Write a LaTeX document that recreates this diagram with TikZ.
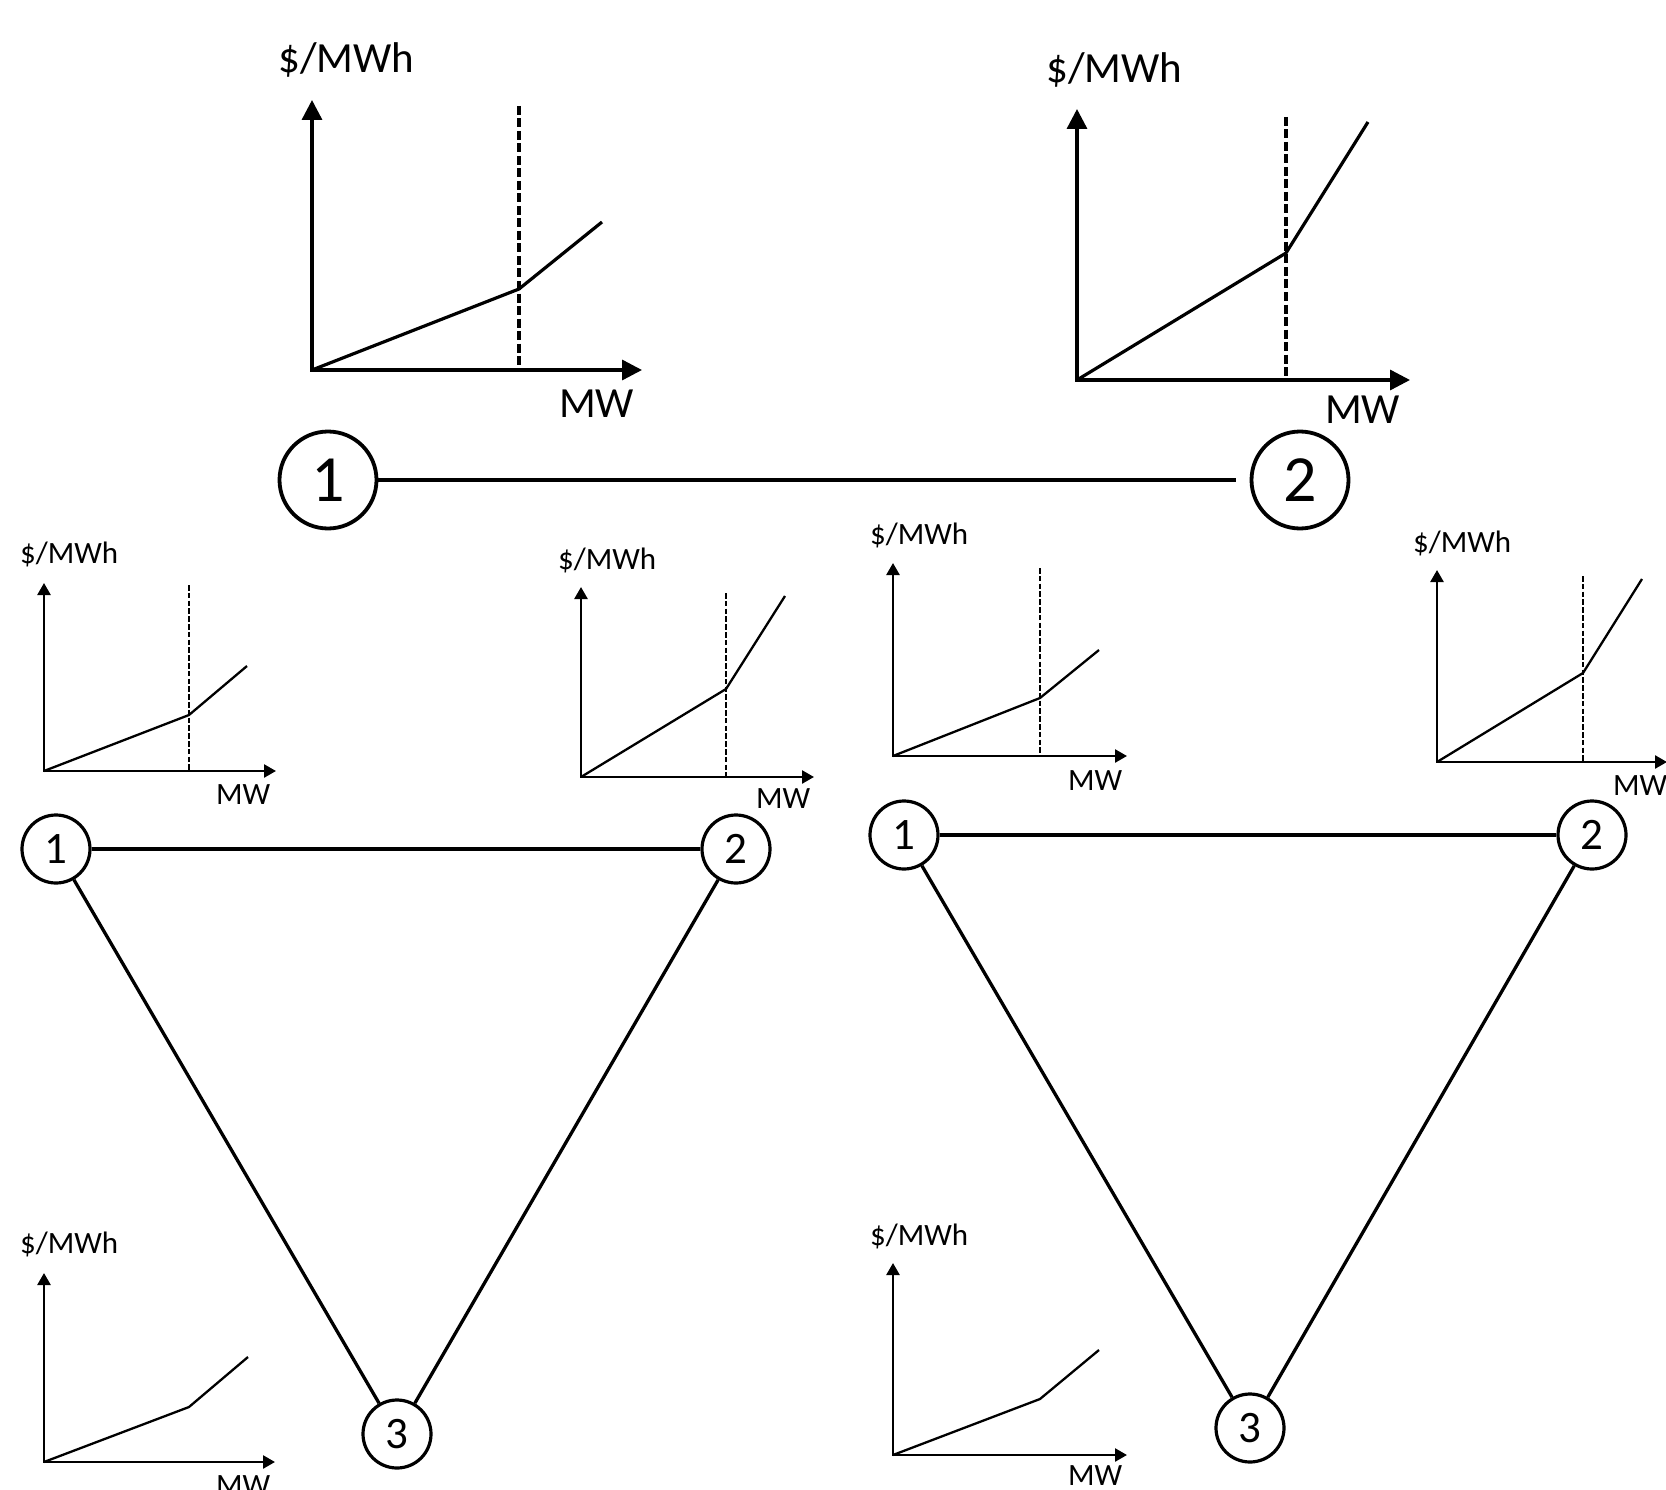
\documentclass[tikz,border=0pt]{standalone}
\usepackage{fontspec}
\setmainfont{Carlito}
\usetikzlibrary{arrows.meta}
\begin{document}
\begin{tikzpicture}[x=1pt,y=-1pt,
  bigaxis/.style={line width=3.4pt,{Triangle[width=20pt,length=20pt]}-{Triangle[width=20pt,length=20pt]}},
  bigcurve/.style={line width=3.2pt,line join=round},
  bigdash/.style={line width=3.4pt,dash pattern=on 9pt off 3.5pt},
  bigtext/.style={font=\fontsize{43}{50}\selectfont,inner sep=0pt,anchor=base west},
  smallaxis/.style={line width=2.5pt,{Triangle[width=13pt,length=12pt]}-{Triangle[width=13pt,length=12pt]}},
  smallcurve/.style={line width=2.3pt,line join=round},
  smalldash/.style={line width=2.4pt,dash pattern=on 5.5pt off 2.3pt},
  smalltext/.style={font=\fontsize{31}{37}\selectfont,inner sep=0pt,anchor=base west},
  bigbus/.style={circle,draw,line width=3.8pt,minimum size=97pt,inner sep=0pt,font=\fontsize{66}{70}\selectfont},
  bus/.style={circle,draw,line width=3.2pt,minimum size=68pt,inner sep=0pt,font=\fontsize{45}{50}\selectfont},
  tieline/.style={line width=3.3pt}
]
\useasboundingbox (0,0) rectangle (1666,1490);

% ---------- two-bus system ----------
\node[bigbus] (t1) at (328,480) {1};
\node[bigbus] (t2) at (1300,480) {2};
\draw[tieline,shorten >=14pt] (t1) -- (t2);

% offer curve at bus 1
\coordinate (a-o) at (312,370);
\coordinate (a-y) at (312,100);
\coordinate (a-x) at (642,370);
\coordinate (a-d) at (519,106);
\coordinate (a-b) at (519,370);
\coordinate (a-k) at (519,289);
\coordinate (a-e) at (602,222);
\draw[bigaxis] (a-y) -- (a-o) -- (a-x);
\draw[bigdash] (a-d) -- (a-b);
\draw[bigcurve] (a-o) -- (a-k) -- (a-e);
\node[bigtext] (a-lp) at (278,73) {\$/MWh};
\node[bigtext] (a-lq) at (559,417) {MW};

% offer curve at bus 2
\coordinate (b-o) at (1077,380);
\coordinate (b-y) at (1077,109);
\coordinate (b-x) at (1410,380);
\coordinate (b-d) at (1286,117);
\coordinate (b-b) at (1286,380);
\coordinate (b-k) at (1286,253);
\coordinate (b-e) at (1368,122);
\draw[bigaxis] (b-y) -- (b-o) -- (b-x);
\draw[bigdash] (b-d) -- (b-b);
\draw[bigcurve] (b-o) -- (b-k) -- (b-e);
\node[bigtext] (b-lp) at (1046,83) {\$/MWh};
\node[bigtext] (b-lq) at (1325,423) {MW};

% ---------- three-bus system, left ----------
\node[bus] (l1) at (56,849) {1};
\node[bus] (l2) at (736,849) {2};
\node[bus] (l3) at (397,1434) {3};
\draw[tieline] (l1) -- (l2);
\draw[tieline] (l1) -- (l3);
\draw[tieline] (l2) -- (l3);

\coordinate (c-o) at (44,771);
\coordinate (c-y) at (44,583);
\coordinate (c-x) at (276,771);
\coordinate (c-d) at (189,585);
\coordinate (c-b) at (189,771);
\coordinate (c-k) at (189,715);
\coordinate (c-e) at (247,666);
\draw[smallaxis] (c-y) -- (c-o) -- (c-x);
\draw[smalldash] (c-d) -- (c-b);
\draw[smallcurve] (c-o) -- (c-k) -- (c-e);
\node[smalltext] (c-lp) at (20,563) {\$/MWh};
\node[smalltext] (c-lq) at (216,804) {MW};

\coordinate (d-o) at (581,777);
\coordinate (d-y) at (581,587);
\coordinate (d-x) at (814,777);
\coordinate (d-d) at (726,593);
\coordinate (d-b) at (726,777);
\coordinate (d-k) at (726,689);
\coordinate (d-e) at (785,596);
\draw[smallaxis] (d-y) -- (d-o) -- (d-x);
\draw[smalldash] (d-d) -- (d-b);
\draw[smallcurve] (d-o) -- (d-k) -- (d-e);
\node[smalltext] (d-lp) at (558,569) {\$/MWh};
\node[smalltext] (d-lq) at (756,808) {MW};

\coordinate (e-o) at (44,1462);
\coordinate (e-y) at (44,1273);
\coordinate (e-x) at (275,1462);
\coordinate (e-k) at (189,1407);
\coordinate (e-e) at (248,1357);
\draw[smallaxis] (e-y) -- (e-o) -- (e-x);
\draw[smallcurve] (e-o) -- (e-k) -- (e-e);
\node[smalltext] (e-lp) at (20,1253) {\$/MWh};
\node[smalltext] (e-lq) at (216,1495) {MW};

% ---------- three-bus system, right ----------
\node[bus] (r1) at (904,835) {1};
\node[bus] (r2) at (1592,835) {2};
\node[bus] (r3) at (1250,1428) {3};
\draw[tieline] (r1) -- (r2);
\draw[tieline] (r1) -- (r3);
\draw[tieline] (r2) -- (r3);

\coordinate (f-o) at (893,756);
\coordinate (f-y) at (893,563);
\coordinate (f-x) at (1127,756);
\coordinate (f-d) at (1040,568);
\coordinate (f-b) at (1040,756);
\coordinate (f-k) at (1040,698);
\coordinate (f-e) at (1099,650);
\draw[smallaxis] (f-y) -- (f-o) -- (f-x);
\draw[smalldash] (f-d) -- (f-b);
\draw[smallcurve] (f-o) -- (f-k) -- (f-e);
\node[smalltext] (f-lp) at (870,544) {\$/MWh};
\node[smalltext] (f-lq) at (1068,790) {MW};

\coordinate (g-o) at (1437,762);
\coordinate (g-y) at (1437,570);
\coordinate (g-x) at (1667,762);
\coordinate (g-d) at (1583,576);
\coordinate (g-b) at (1583,762);
\coordinate (g-k) at (1583,673);
\coordinate (g-e) at (1642,579);
\draw[smallaxis] (g-y) -- (g-o) -- (g-x);
\draw[smalldash] (g-d) -- (g-b);
\draw[smallcurve] (g-o) -- (g-k) -- (g-e);
\node[smalltext] (g-lp) at (1413,552) {\$/MWh};
\node[smalltext] (g-lq) at (1613,795) {MW};

\coordinate (h-o) at (893,1455);
\coordinate (h-y) at (893,1263);
\coordinate (h-x) at (1127,1455);
\coordinate (h-k) at (1040,1399);
\coordinate (h-e) at (1099,1350);
\draw[smallaxis] (h-y) -- (h-o) -- (h-x);
\draw[smallcurve] (h-o) -- (h-k) -- (h-e);
\node[smalltext] (h-lp) at (870,1245) {\$/MWh};
\node[smalltext] (h-lq) at (1068,1485) {MW};
\end{tikzpicture}
\end{document}
